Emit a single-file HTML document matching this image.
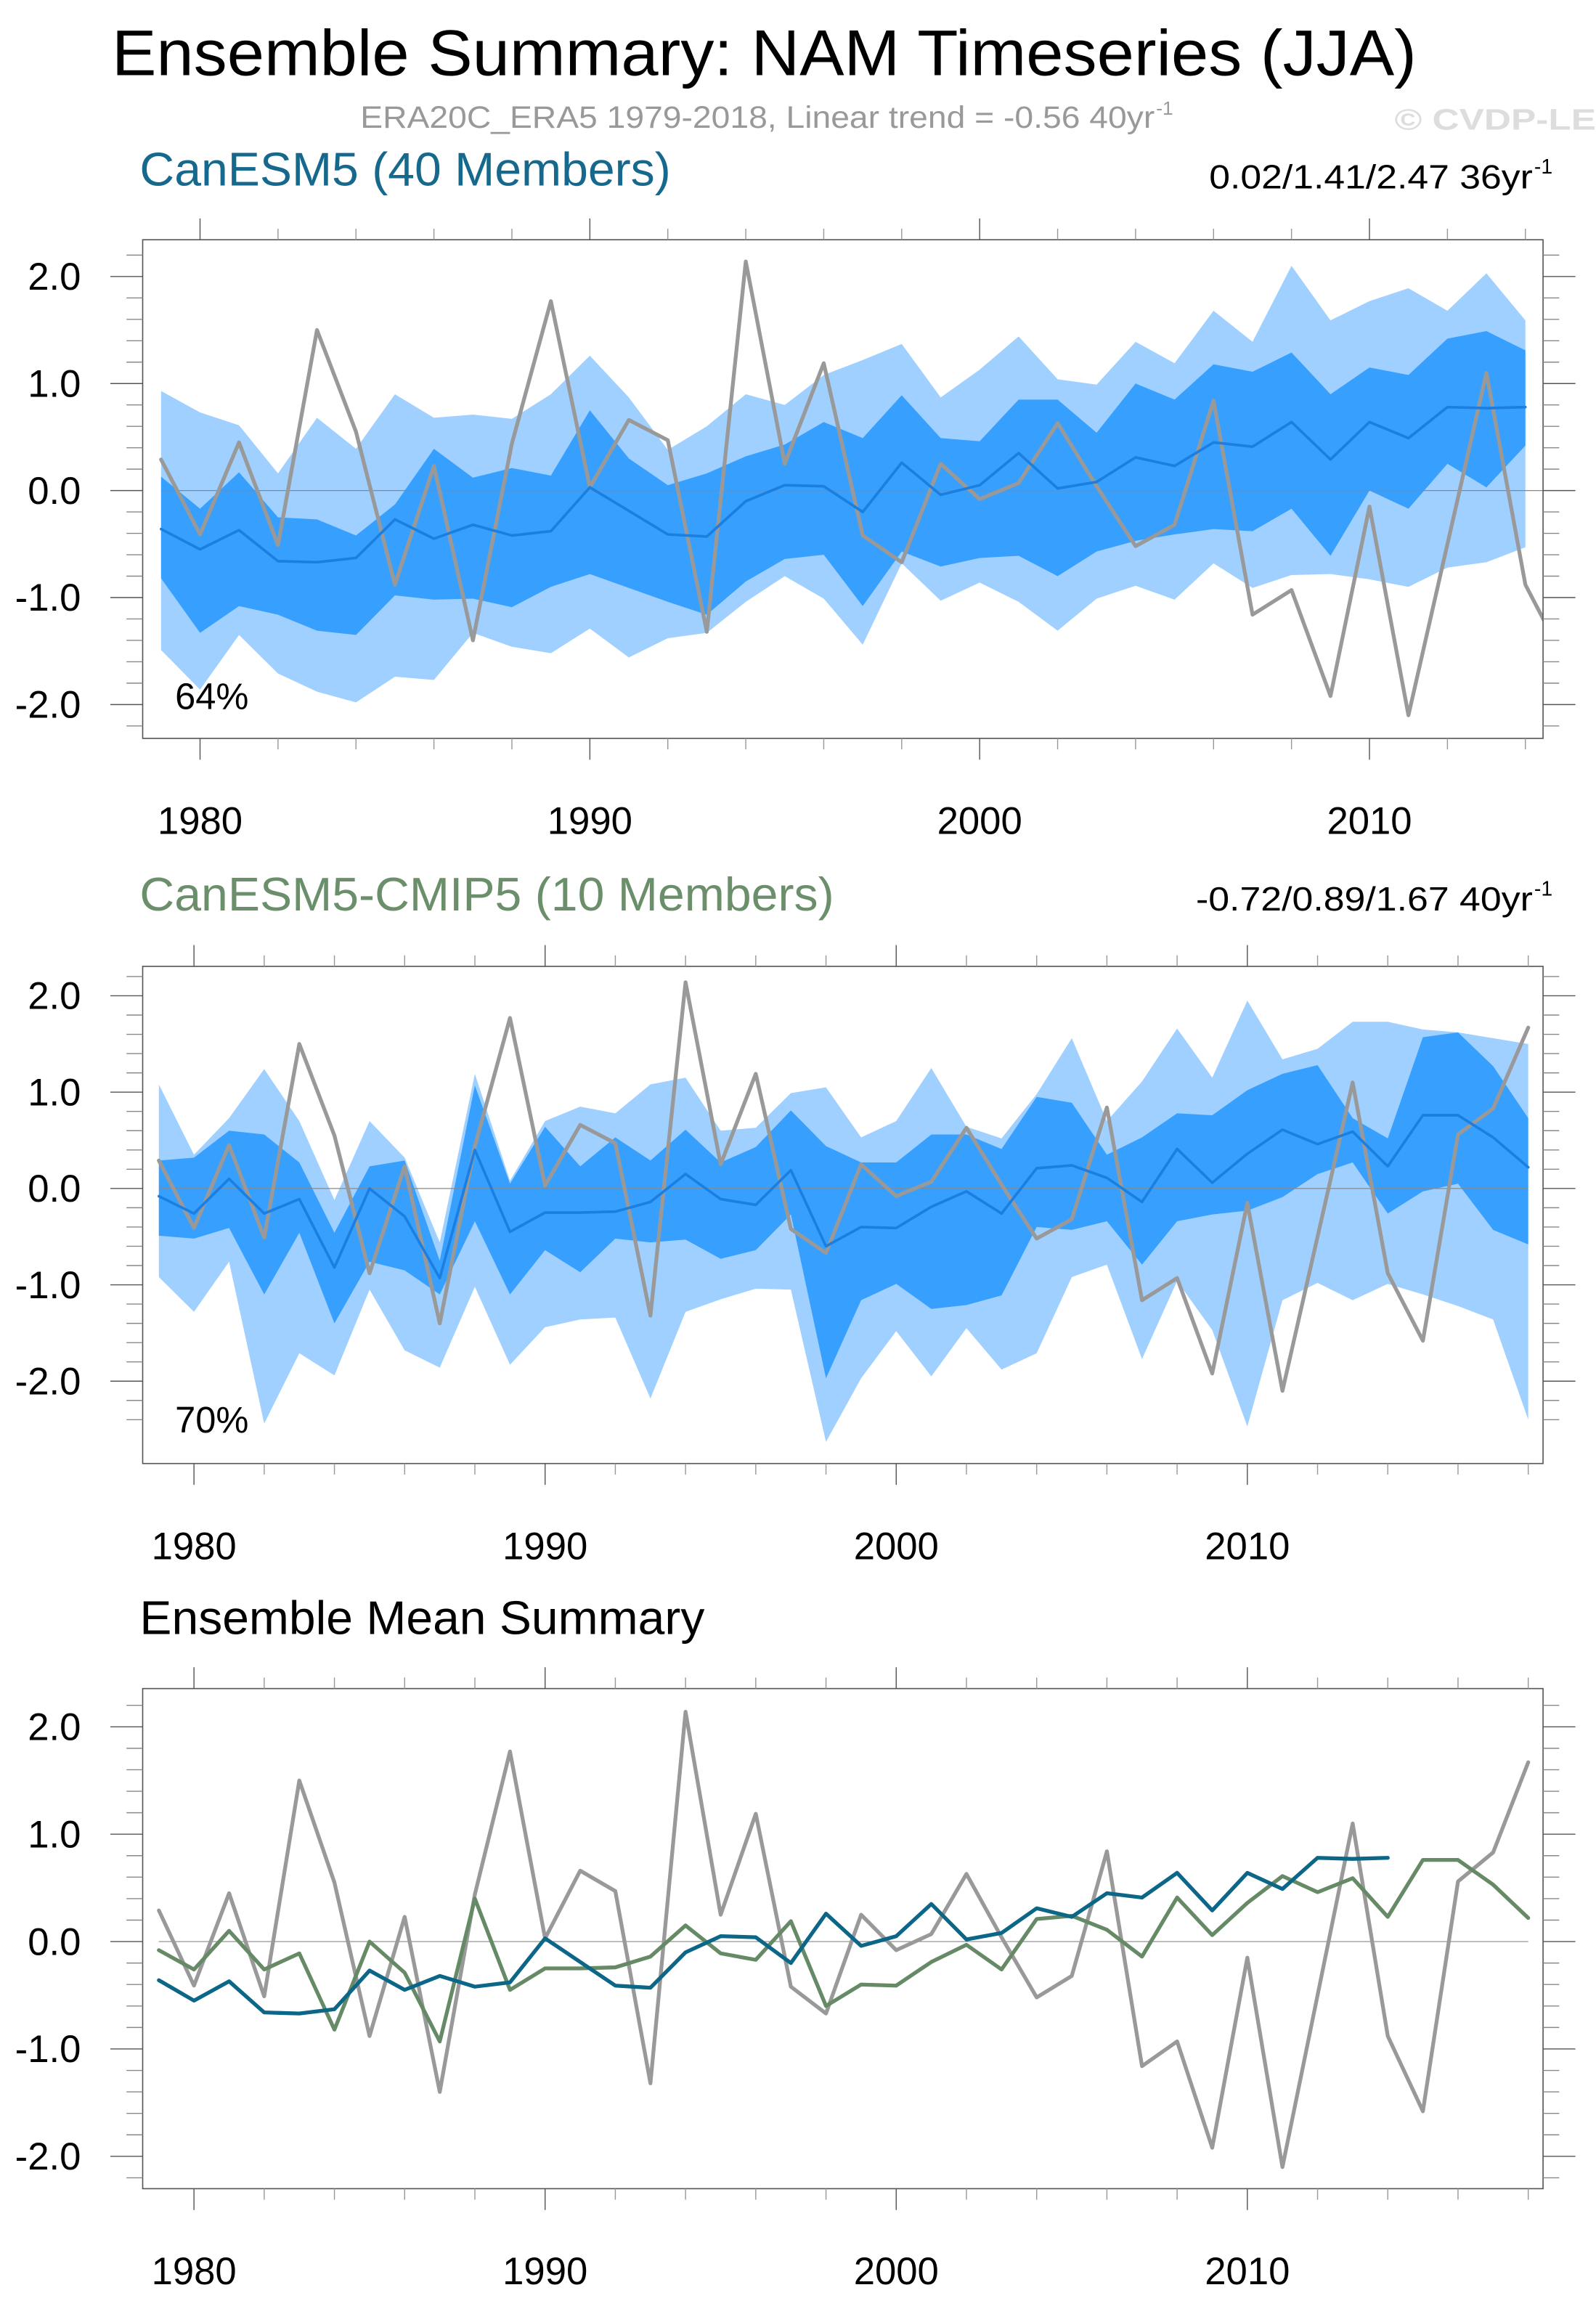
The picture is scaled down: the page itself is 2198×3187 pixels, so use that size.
<!DOCTYPE html>
<html><head><meta charset="utf-8"><style>
html,body{margin:0;padding:0;background:#fff}
svg{display:block}
text{font-family:"Liberation Sans",sans-serif}
</style></head><body>
<svg id="chart" xmlns="http://www.w3.org/2000/svg" width="2198" height="3187" viewBox="0 0 1085 1573.2">
<rect x="0" y="0" width="1085" height="1573.2" fill="#fff"/>
<text x="76" y="51" font-size="44" textLength="887" lengthAdjust="spacingAndGlyphs">Ensemble Summary: NAM Timeseries (JJA)</text>
<text x="245" y="87" font-size="21" fill="#999" textLength="540" lengthAdjust="spacingAndGlyphs">ERA20C_ERA5 1979-2018, Linear trend = -0.56 40yr</text>
<text x="786" y="78" font-size="13" fill="#999">-1</text>
<text x="948" y="88" font-size="20" font-weight="bold" fill="#ddd" textLength="137" lengthAdjust="spacingAndGlyphs">© CVDP-LE</text>
<text x="95" y="126" font-size="32" fill="#16698c" textLength="361" lengthAdjust="spacingAndGlyphs">CanESM5 (40 Members)</text>
<text x="822" y="128" font-size="23" textLength="220" lengthAdjust="spacingAndGlyphs">0.02/1.41/2.47 36yr</text>
<text x="1043" y="118" font-size="14">-1</text>
<text x="95" y="619" font-size="32" fill="#6a8f6a" textLength="472" lengthAdjust="spacingAndGlyphs">CanESM5-CMIP5 (10 Members)</text>
<text x="813" y="619" font-size="23" textLength="229" lengthAdjust="spacingAndGlyphs">-0.72/0.89/1.67 40yr</text>
<text x="1043" y="609" font-size="14">-1</text>
<text x="95" y="1111" font-size="32" textLength="384" lengthAdjust="spacingAndGlyphs">Ensemble Mean Summary</text>
<g id="panels"></g>
</svg>
<script>
const obsYears = []; for (let y = 1979; y <= 2018; y++) obsYears.push(y);
const obsValues = [0.29,-0.41,0.45,-0.51,1.50,0.55,-0.88,0.23,-1.40,0.44,1.77,0.03,0.66,0.47,-1.32,2.14,0.25,1.19,-0.42,-0.67,0.25,-0.08,0.07,0.63,0.04,-0.52,-0.32,0.84,-1.16,-0.93,-1.92,-0.15,-2.10,-0.50,1.10,-0.88,-1.58,0.56,0.83,1.67];
const canYears = obsYears.slice(0, 36);
const canMean = [-0.36,-0.55,-0.37,-0.66,-0.67,-0.63,-0.27,-0.45,-0.32,-0.42,-0.38,0.03,-0.19,-0.41,-0.43,-0.10,0.05,0.04,-0.20,0.26,-0.04,0.05,0.35,0.02,0.08,0.31,0.23,0.45,0.41,0.64,0.29,0.64,0.49,0.78,0.77,0.78];
const canMax = [0.93,0.73,0.61,0.16,0.68,0.39,0.90,0.68,0.71,0.67,0.90,1.26,0.87,0.38,0.60,0.90,0.80,1.08,1.22,1.37,0.87,1.13,1.44,1.04,0.99,1.39,1.19,1.68,1.39,2.10,1.59,1.77,1.89,1.68,2.03,1.59];
const canMin = [-1.49,-1.86,-1.35,-1.71,-1.88,-1.98,-1.74,-1.77,-1.33,-1.46,-1.52,-1.29,-1.56,-1.38,-1.33,-1.04,-0.80,-1.01,-1.44,-0.68,-1.03,-0.86,-1.04,-1.31,-1.01,-0.89,-1.02,-0.68,-0.91,-0.79,-0.78,-0.83,-0.90,-0.72,-0.67,-0.53];
const canHi = [0.13,-0.17,0.17,-0.25,-0.27,-0.42,-0.13,0.39,0.12,0.21,0.14,0.75,0.30,0.05,0.16,0.32,0.43,0.64,0.49,0.89,0.49,0.46,0.85,0.85,0.54,1.00,0.85,1.18,1.11,1.29,0.90,1.15,1.08,1.42,1.49,1.31];
const canLo = [-0.82,-1.33,-1.08,-1.16,-1.31,-1.35,-0.98,-1.02,-1.01,-1.09,-0.90,-0.78,-0.91,-1.04,-1.16,-0.85,-0.64,-0.60,-1.08,-0.57,-0.71,-0.63,-0.61,-0.80,-0.57,-0.47,-0.41,-0.36,-0.38,-0.17,-0.61,0.00,-0.17,0.25,0.03,0.42];
const cmYears = obsYears;
const cmMean = [-0.08,-0.26,0.10,-0.26,-0.11,-0.82,0.00,-0.29,-0.93,0.40,-0.45,-0.25,-0.25,-0.24,-0.14,0.15,-0.11,-0.17,0.19,-0.60,-0.40,-0.41,-0.19,-0.03,-0.26,0.21,0.24,0.11,-0.14,0.41,0.06,0.36,0.61,0.46,0.59,0.23,0.76,0.76,0.53,0.22];
const cmMax = [1.08,0.35,0.73,1.24,0.70,-0.12,0.70,0.32,-0.56,1.19,0.08,0.70,0.85,0.78,1.08,1.15,0.60,0.63,0.99,1.05,0.53,0.70,1.25,0.64,0.52,0.98,1.56,0.70,1.11,1.66,1.15,1.95,1.34,1.45,1.73,1.73,1.65,1.62,1.56,1.50];
const cmMin = [-0.92,-1.28,-0.76,-2.44,-1.71,-1.94,-1.05,-1.68,-1.86,-1.02,-1.83,-1.44,-1.36,-1.34,-2.18,-1.28,-1.15,-1.04,-1.05,-2.63,-1.97,-1.48,-1.95,-1.45,-1.88,-1.71,-0.92,-0.79,-1.77,-0.96,-1.47,-2.47,-1.16,-0.98,-1.16,-0.99,-1.10,-1.22,-1.36,-2.40];
const cmHi = [0.29,0.32,0.60,0.56,0.27,-0.46,0.23,0.29,-0.75,1.07,0.05,0.64,0.23,0.53,0.29,0.61,0.27,0.43,0.81,0.44,0.27,0.27,0.56,0.56,0.41,0.95,0.89,0.35,0.53,0.78,0.76,1.02,1.19,1.28,0.73,0.52,1.57,1.62,1.27,0.73];
const cmLo = [-0.49,-0.52,-0.41,-1.10,-0.46,-1.40,-0.76,-0.85,-1.10,-0.34,-1.10,-0.64,-0.87,-0.52,-0.56,-0.53,-0.73,-0.64,-0.27,-1.97,-1.16,-0.99,-1.25,-1.21,-1.11,-0.40,-0.43,-0.34,-0.79,-0.34,-0.27,-0.23,-0.09,0.15,0.27,-0.26,-0.03,0.05,-0.43,-0.58];
const yTickLabels = ["2.0","1.0","0.0","-1.0","-2.0"];
const yTickValues = [2,1,0,-1,-2];
const xTickYears = [1980,1990,2000,2010];

const NS = "http://www.w3.org/2000/svg";
const root = document.getElementById('panels');
function mk(tag, attrs, parent) {
  const e = document.createElementNS(NS, tag);
  for (const k in attrs) e.setAttribute(k, attrs[k]);
  (parent || root).appendChild(e);
  return e;
}
function drawPanel(p) {
  const g = mk('g', {});
  
  
  const xs = yr => p.x0 + (yr - p.y0yr) * p.dx;
  const ys = v => p.yZero - v * p.dy;
  const L = p.left, R = p.right, T = p.top, B = p.bottom;
  const clipId = 'clip-' + p.name;
  const cp = mk('clipPath', {id: clipId}, g);
  mk('rect', {x: L, y: T, width: R - L, height: B - T}, cp);
  const inner = mk('g', {'clip-path': 'url(#' + clipId + ')'}, g);
  function band(years, hi, lo, color, nm) {
    let d = years.map((y, i) => (i ? 'L' : 'M') + xs(y).toFixed(2) + ',' + ys(hi[i]).toFixed(2)).join('');
    for (let i = years.length - 1; i >= 0; i--) d += 'L' + xs(years[i]).toFixed(2) + ',' + ys(lo[i]).toFixed(2);
    const e = mk('path', {d: d + 'Z', fill: color}, inner);
    
    
  }
  function line(years, vals, color, w, nm) {
    const d = years.map((y, i) => (i ? 'L' : 'M') + xs(y).toFixed(2) + ',' + ys(vals[i]).toFixed(2)).join('');
    const e = mk('path', {d: d, fill: 'none', stroke: color, 'stroke-width': w, 'stroke-linejoin': 'round', 'stroke-linecap': 'round'}, inner);
    
    
  }
  if (p.bands) {
    band(p.years, p.max, p.min, '#9fd0ff', 'range-band-outer');
    band(p.years, p.hi, p.lo, '#379ffe', 'range-band-inner');
  }
  const zx2 = p.zeroEnd ? xs(p.zeroEnd) : R;
  const zl = mk('line', {x1: xs(p.years[0]), x2: zx2, y1: ys(0), y2: ys(0), stroke: '#888', 'stroke-width': 0.6}, inner);
  
  
  for (const s of p.lines) line(s.years, s.vals, s.color, s.w, s.name);
  const fr = mk('rect', {x: L, y: T, width: R - L, height: B - T, fill: 'none', stroke: '#555', 'stroke-width': 0.8}, g);
  
  
  for (let v = -2.4; v <= 2.41; v += 0.2) {
    const y = ys(v); if (y < T || y > B) continue;
    const major = Math.abs(v - Math.round(v)) < 0.01;
    const len = major ? 22 : 11;
    mk('line', {x1: L - len, x2: L, y1: y, y2: y, stroke: major ? '#555' : '#888', 'stroke-width': 0.7}, g);
    mk('line', {x1: R, x2: R + len, y1: y, y2: y, stroke: major ? '#555' : '#888', 'stroke-width': 0.7}, g);
  }
  yTickValues.forEach((v, i) => {
    const t = mk('text', {x: 55, y: ys(v) + 9, 'font-size': 26, 'text-anchor': 'end'}, g);
    t.textContent = yTickLabels[i];
    
    
  });
  for (let yr = 1978; yr <= 2020; yr += 2) {
    const x = xs(yr); if (x < L || x > R) continue;
    const major = yr % 10 === 0;
    const len = major ? 14.5 : 7.5;
    mk('line', {x1: x, x2: x, y1: T - len, y2: T, stroke: major ? '#555' : '#999', 'stroke-width': 0.7}, g);
    mk('line', {x1: x, x2: x, y1: B, y2: B + len, stroke: major ? '#555' : '#999', 'stroke-width': 0.7}, g);
  }
  xTickYears.forEach(yr => {
    const t = mk('text', {x: xs(yr), y: B + 65, 'font-size': 26, 'text-anchor': 'middle'}, g);
    t.textContent = String(yr);
    
    
  });
  if (p.pct) {
    const t = mk('text', {x: 119, y: p.pctY, 'font-size': 25}, g);
    t.textContent = p.pct;
    
    
  }
}
const grey = '#999';
drawPanel({name: 'panel-canesm5', left: 97, right: 1049, top: 163, bottom: 502, x0: 109.5, y0yr: 1979, dx: 26.5, yZero: 333.5, dy: 72.75,
  bands: true, years: canYears, max: canMax, min: canMin, hi: canHi, lo: canLo, zeroEnd: null, pct: '64%', pctY: 482,
  lines: [{years: obsYears, vals: obsValues, color: grey, w: 2.6, name: 'obs-line'}, {years: canYears, vals: canMean, color: '#1a7fe0', w: 1.8, name: 'ensemble-mean-line'}]});
drawPanel({name: 'panel-canesm5-cmip5', left: 97, right: 1049, top: 657, bottom: 995, x0: 108, y0yr: 1979, dx: 23.87, yZero: 808, dy: 65.5,
  bands: true, years: cmYears, max: cmMax, min: cmMin, hi: cmHi, lo: cmLo, zeroEnd: 2018, pct: '70%', pctY: 974,
  lines: [{years: obsYears, vals: obsValues, color: grey, w: 2.6, name: 'obs-line'}, {years: cmYears, vals: cmMean, color: '#1a7fe0', w: 1.8, name: 'ensemble-mean-line'}]});
drawPanel({name: 'panel-ensemble-mean-summary', left: 97, right: 1049, top: 1148, bottom: 1488, x0: 108, y0yr: 1979, dx: 23.87, yZero: 1320, dy: 73,
  bands: false, years: cmYears, zeroEnd: 2018,
  lines: [{years: obsYears, vals: obsValues, color: grey, w: 2.6, name: 'obs-line'}, {years: cmYears, vals: cmMean, color: '#668a66', w: 2.6, name: 'cmip5-mean-line'}, {years: canYears, vals: canMean, color: '#0b6688', w: 2.6, name: 'canesm5-mean-line'}]});
</script>
</body></html>
